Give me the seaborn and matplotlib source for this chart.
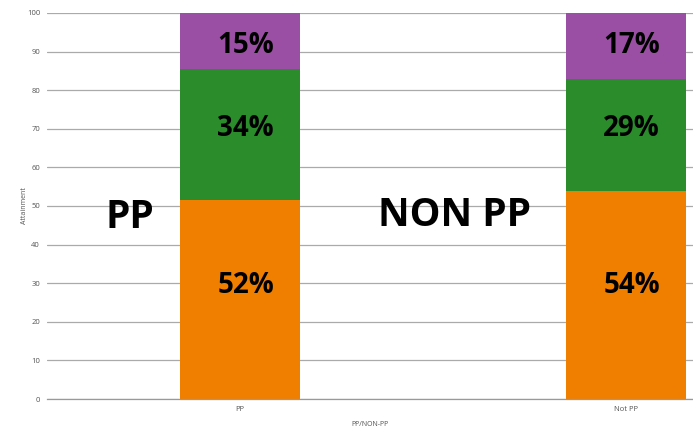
import numpy as np
import matplotlib
matplotlib.use("Agg")
import matplotlib.pyplot as plt
import seaborn as sns

# Datos del gráfico
groups = ["PP", "Not PP"]
orange_vals = [51.6, 53.9]
green_vals = [33.8, 28.9]
purple_vals = [14.6, 17.2]
orange_labels = ["52%", "54%"]
green_labels = ["34%", "29%"]
purple_labels = ["15%", "17%"]
big_labels = ["PP", "NON PP"]

sns.set_style("white")
plt.rcParams['font.family'] = ['Open Sans', 'DejaVu Sans']

fig = plt.figure(figsize=(6.93, 4.33), dpi=100)
ax = fig.add_axes([0.0678, 0.0785, 0.932, 0.8915])

orange = np.array(orange_vals)
green = np.array(green_vals)
purple = np.array(purple_vals)

# barras apiladas: se dibujan los totales acumulados de arriba hacia abajo
for y, c in [(orange + green + purple, "#9A4FA4"),
             (orange + green, "#2A8C2B"),
             (orange, "#F07F00")]:
    sns.barplot(x=groups, y=y, color=c, width=0.31, saturation=1,
                linewidth=0, ax=ax, zorder=2)

# etiquetas de porcentaje (posición vertical fija por capa, como en el original)
label_y = [29.3, 70.2, 91.7]
for i in range(len(groups)):
    labels = [orange_labels[i], green_labels[i], purple_labels[i]]
    for yy, lab in zip(label_y, labels):
        ax.text(i + 0.015, yy, lab, ha="center", va="center",
                fontsize=20, fontweight="bold", color="black", zorder=3)

ax.text(-0.285, 47.0, big_labels[0], ha="center", va="center",
        fontsize=28, fontweight="bold", color="black")
ax.text(0.557, 47.5, big_labels[1], ha="center", va="center",
        fontsize=28, fontweight="bold", color="black")

ax.set_ylim(0, 100)
ax.set_xlim(-0.5, 1.174)
ax.set_yticks(range(0, 101, 10))
ax.yaxis.grid(True, color="#AAAAAA", linewidth=0.9, zorder=0)
ax.set_axisbelow(True)

for s in ["top", "right", "left"]:
    ax.spines[s].set_visible(False)
ax.spines["bottom"].set_color("#999999")
ax.spines["bottom"].set_linewidth(0.9)

ax.tick_params(axis="both", labelsize=5.5, labelcolor="#555555", colors="#999999",
               length=3, width=0.8, pad=2)
ax.set_ylabel("Attainment", fontsize=5, color="#555555", labelpad=-1)
ax.set_xlabel("PP/NON-PP", fontsize=5, color="#555555", labelpad=6)

fig.savefig("out.png", dpi=100)
